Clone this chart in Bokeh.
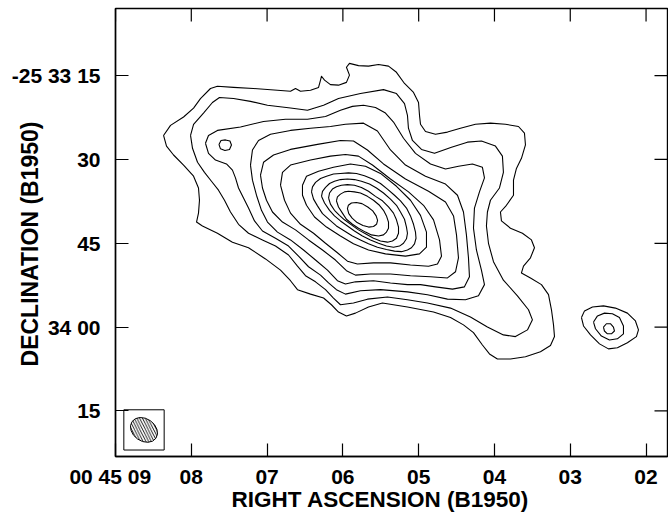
import math
from bokeh.plotting import figure
from bokeh.models import Range1d, FixedTicker
from bokeh.embed import file_html
from bokeh.resources import INLINE

# ---- axes: RA seconds of 00h45m, Dec arcsec south of -25d33m00s ----
ra_ticks = [9, 8, 7, 6, 5, 4, 3, 2]
ra_labels = ["00 45 09\u2002", "08", "07", "06", "05", "04", "03", "02"]
dec_ticks = [15, 30, 45, 60, 75]
dec_labels = ["-25 33 15", "30", "45", "34 00", "15"]
ra_view = [9.0, 1.717]
dec_view = [83.16, 2.98]
dec_ref_deg = -25.55

# ---- contour traces (RA s, Dec arcsec), outermost to innermost ----
c01_ra = [8.366, 8.274, 8.102, 7.970, 7.879, 7.747, 7.655, 7.443, 7.179, 6.863, 6.691, 6.625, 6.559, 6.427, 6.321, 6.295, 6.282, 6.242, 6.164, 6.058, 5.953, 5.913, 5.953, 5.913, 5.794, 5.662, 5.530, 5.398, 5.293, 5.187, 5.068, 5.002, 4.989, 4.976, 4.910, 4.778, 4.620, 4.449, 4.251, 4.053, 3.855, 3.683, 3.604, 3.591, 3.644, 3.710, 3.749, 3.749, 3.842, 3.921, 3.908, 3.789, 3.631, 3.512, 3.472, 3.525, 3.617, 3.644, 3.525, 3.380, 3.287, 3.248, 3.221, 3.208, 3.261, 3.393, 3.591, 3.789, 3.961, 4.066, 4.159, 4.277, 4.409, 4.580, 4.804, 5.148, 5.478, 5.662, 5.834, 5.953, 6.058, 6.151, 6.255, 6.427, 6.599, 6.691, 6.823, 7.021, 7.245, 7.457, 7.655, 7.853, 7.931, 7.905, 7.892, 7.905, 7.970, 8.102, 8.234, 8.327]
c01_dec = [25.7, 23.9, 22.4, 20.8, 19.1, 17.3, 16.9, 17.1, 17.3, 17.6, 17.8, 17.3, 17.8, 17.6, 17.1, 15.8, 15.1, 15.8, 16.6, 16.7, 16.2, 14.9, 13.5, 12.8, 13.2, 13.3, 13.0, 13.3, 14.4, 16.4, 18.0, 19.8, 22.1, 23.7, 25.0, 25.5, 25.1, 24.4, 23.7, 23.5, 23.7, 24.1, 25.3, 27.4, 29.8, 31.6, 33.7, 36.4, 38.2, 39.4, 41.0, 42.3, 43.2, 44.4, 45.8, 47.6, 49.1, 50.3, 51.2, 52.4, 54.2, 56.9, 59.6, 61.7, 63.3, 64.4, 65.3, 65.7, 65.7, 64.8, 63.2, 61.0, 59.6, 58.3, 57.3, 56.4, 55.7, 56.4, 57.5, 58.0, 57.3, 56.0, 54.8, 54.1, 53.3, 51.7, 49.8, 47.8, 45.8, 44.8, 43.2, 41.9, 41.2, 39.6, 37.3, 35.1, 33.0, 31.0, 29.2, 27.6]

c02_ra = [8.010, 7.970, 7.839, 7.721, 7.628, 7.443, 7.219, 6.995, 6.691, 6.467, 6.255, 6.058, 5.768, 5.464, 5.293, 5.187, 5.148, 5.135, 5.082, 4.963, 4.791, 4.567, 4.357, 4.172, 3.987, 3.895, 3.882, 3.934, 4.053, 4.093, 4.106, 4.079, 4.013, 3.882, 3.697, 3.551, 3.499, 3.565, 3.723, 3.882, 4.093, 4.317, 4.580, 4.884, 5.148, 5.412, 5.676, 5.860, 6.032, 6.124, 6.229, 6.361, 6.493, 6.599, 6.717, 6.889, 7.061, 7.245, 7.377, 7.483, 7.562, 7.641, 7.734, 7.826, 7.918, 7.984]
c02_dec = [25.7, 23.7, 21.7, 19.8, 18.9, 19.1, 19.6, 20.3, 20.8, 21.2, 20.3, 19.1, 18.2, 17.5, 18.2, 20.0, 22.1, 24.4, 26.6, 28.2, 28.9, 27.8, 26.9, 26.7, 27.6, 29.4, 32.3, 35.1, 37.3, 39.4, 41.9, 45.0, 48.3, 51.6, 54.4, 56.9, 58.7, 60.5, 61.7, 61.4, 60.0, 58.2, 56.6, 55.7, 55.1, 54.6, 55.0, 55.7, 56.0, 54.8, 53.3, 51.9, 50.8, 49.1, 47.1, 45.5, 44.4, 43.2, 41.6, 39.4, 37.3, 35.5, 33.9, 32.3, 30.5, 28.0]

c03_ra = [7.813, 7.773, 7.655, 7.351, 7.047, 6.757, 6.467, 6.229, 6.032, 5.874, 5.728, 5.570, 5.438, 5.332, 5.200, 5.042, 4.844, 4.646, 4.474, 4.291, 4.159, 4.132, 4.198, 4.264, 4.277, 4.238, 4.172, 4.132, 4.211, 4.383, 4.620, 4.884, 5.148, 5.504, 5.768, 5.966, 6.085, 6.189, 6.295, 6.453, 6.585, 6.717, 6.889, 7.061, 7.166, 7.245, 7.311, 7.377, 7.417, 7.457, 7.536, 7.681, 7.773]
c03_dec = [27.1, 25.7, 24.8, 24.2, 23.2, 22.8, 22.8, 22.3, 21.2, 20.5, 20.3, 20.7, 21.7, 23.3, 26.2, 28.9, 30.8, 31.7, 31.2, 30.8, 31.4, 33.3, 35.8, 38.7, 42.3, 46.2, 49.8, 52.4, 54.4, 55.1, 55.0, 54.2, 53.7, 53.3, 53.5, 54.1, 53.3, 52.1, 50.7, 49.2, 47.3, 45.5, 44.1, 42.8, 41.0, 38.7, 36.9, 35.1, 33.3, 31.9, 30.8, 30.1, 28.9]

c04_ra = [7.219, 7.193, 7.113, 6.955, 6.691, 6.427, 6.164, 5.966, 5.728, 5.544, 5.372, 5.174, 4.910, 4.646, 4.488, 4.409, 4.370, 4.343, 4.330, 4.396, 4.554, 4.778, 4.976, 5.148, 5.372, 5.596, 5.834, 5.966, 6.072, 6.203, 6.361, 6.519, 6.691, 6.863, 6.995, 7.074, 7.140, 7.193]
c04_dec = [31.0, 28.3, 26.6, 25.5, 24.8, 24.4, 24.1, 23.7, 23.5, 24.9, 28.3, 31.0, 33.0, 34.4, 36.4, 39.4, 43.5, 47.6, 51.0, 52.8, 53.2, 52.8, 52.4, 52.4, 52.1, 51.7, 51.9, 52.3, 51.7, 49.8, 48.0, 46.2, 44.4, 43.0, 41.2, 39.1, 36.4, 33.7]

c05_ra = [7.087, 7.047, 6.915, 6.691, 6.335, 6.032, 5.860, 5.676, 5.464, 5.174, 4.870, 4.646, 4.540, 4.501, 4.475, 4.514, 4.620, 4.844, 5.108, 5.372, 5.636, 5.834, 5.953, 6.098, 6.269, 6.453, 6.625, 6.797, 6.929, 7.008, 7.061]
c05_dec = [32.8, 30.5, 29.2, 28.2, 27.3, 26.6, 26.7, 28.3, 30.8, 33.5, 35.7, 37.6, 40.1, 43.5, 47.6, 50.1, 51.2, 51.0, 50.8, 50.5, 50.5, 50.7, 49.9, 48.0, 46.2, 44.4, 42.6, 41.2, 39.4, 37.3, 35.1]

c06_ra = [6.823, 6.797, 6.691, 6.427, 6.164, 5.966, 5.794, 5.610, 5.372, 5.134, 4.936, 4.804, 4.725, 4.699, 4.752, 4.870, 5.108, 5.372, 5.596, 5.808, 5.940, 6.072, 6.229, 6.387, 6.559, 6.691, 6.770]
c06_dec = [34.6, 32.3, 31.0, 30.1, 29.4, 29.1, 29.4, 31.0, 33.5, 35.8, 38.2, 40.8, 44.4, 47.3, 48.7, 49.1, 48.9, 48.5, 48.5, 48.7, 48.2, 46.7, 45.0, 43.2, 41.6, 39.6, 37.3]

c07_ra = [6.533, 6.480, 6.321, 6.124, 5.900, 5.702, 5.504, 5.293, 5.108, 4.976, 4.897, 4.897, 4.989, 5.174, 5.438, 5.662, 5.860, 6.032, 6.216, 6.374, 6.480, 6.533]
c07_dec = [34.6, 33.0, 32.1, 31.4, 30.8, 31.2, 32.5, 34.8, 37.3, 40.0, 43.0, 45.7, 46.9, 47.3, 46.9, 46.2, 45.1, 43.7, 42.1, 40.3, 38.2, 36.4]

c08_ra = [6.414, 6.401, 6.361, 6.295, 6.216, 6.124, 6.032, 5.926, 5.821, 5.715, 5.610, 5.504, 5.412, 5.319, 5.240, 5.161, 5.108, 5.068, 5.042, 5.035, 5.055, 5.095, 5.148, 5.227, 5.319, 5.425, 5.544, 5.662, 5.768, 5.874, 5.979, 6.085, 6.176, 6.269, 6.335, 6.387]
c08_dec = [35.8, 34.9, 34.1, 33.4, 33.0, 32.6, 32.5, 32.4, 32.5, 32.9, 33.5, 34.3, 35.3, 36.4, 37.4, 38.7, 40.1, 41.6, 43.0, 44.1, 45.1, 45.8, 46.2, 46.5, 46.4, 46.1, 45.7, 45.1, 44.4, 43.7, 42.8, 41.9, 40.8, 39.7, 38.3, 37.1]

c09_ra = [6.282, 6.269, 6.229, 6.176, 6.111, 6.032, 5.940, 5.847, 5.755, 5.649, 5.557, 5.464, 5.372, 5.293, 5.240, 5.187, 5.161, 5.148, 5.161, 5.200, 5.253, 5.332, 5.425, 5.530, 5.636, 5.742, 5.847, 5.940, 6.032, 6.111, 6.176, 6.242]
c09_dec = [36.6, 35.7, 35.0, 34.3, 33.9, 33.6, 33.5, 33.6, 33.9, 34.4, 35.1, 36.0, 37.1, 38.2, 39.4, 40.7, 42.1, 43.2, 44.2, 45.0, 45.5, 45.7, 45.5, 45.0, 44.4, 43.7, 42.8, 41.9, 41.0, 40.1, 39.1, 37.8]

c10_ra = [6.189, 6.176, 6.138, 6.085, 6.019, 5.940, 5.847, 5.755, 5.662, 5.570, 5.478, 5.398, 5.332, 5.293, 5.266, 5.266, 5.293, 5.346, 5.412, 5.504, 5.596, 5.702, 5.794, 5.887, 5.979, 6.045, 6.111, 6.164]
c10_dec = [36.9, 36.0, 35.3, 34.9, 34.6, 34.5, 34.6, 35.0, 35.7, 36.6, 37.4, 38.5, 39.6, 40.8, 42.1, 43.2, 44.1, 44.6, 44.8, 44.6, 44.1, 43.3, 42.6, 41.7, 40.8, 40.0, 39.1, 38.0]

c11_ra = [6.085, 6.072, 6.032, 5.979, 5.926, 5.847, 5.768, 5.676, 5.596, 5.517, 5.464, 5.425, 5.398, 5.398, 5.425, 5.464, 5.530, 5.623, 5.702, 5.794, 5.874, 5.953, 6.006, 6.058]
c11_dec = [37.4, 36.7, 36.2, 35.8, 35.7, 35.8, 36.0, 36.6, 37.3, 38.2, 39.1, 40.1, 41.2, 42.3, 43.0, 43.5, 43.7, 43.5, 43.0, 42.3, 41.6, 40.7, 39.6, 38.5]

c12_ra = [5.556, 5.596, 5.660, 5.735, 5.812, 5.878, 5.922, 5.940, 5.928, 5.887, 5.823, 5.748, 5.672, 5.606, 5.561, 5.542]
c12_dec = [41.6, 42.0, 42.1, 41.8, 41.3, 40.5, 39.7, 38.8, 38.2, 37.8, 37.7, 37.9, 38.5, 39.2, 40.1, 40.9]

# small closed contour inside the north-east lobe
island_ra = [7.635, 7.608, 7.549, 7.490, 7.470, 7.496, 7.556, 7.615]
island_dec = [27.3, 26.6, 26.5, 26.7, 27.4, 28.2, 28.4, 28.1]

# compact source to the south-west
src_out_ra = [2.852, 2.812, 2.707, 2.562, 2.404, 2.246, 2.140, 2.100, 2.127, 2.246, 2.378, 2.496, 2.614, 2.733, 2.825]
src_out_dec = [58.3, 57.1, 56.4, 56.2, 56.6, 57.5, 58.9, 60.5, 61.7, 62.8, 63.7, 63.9, 63.0, 61.4, 59.8]
src_mid_ra = [2.693, 2.641, 2.549, 2.444, 2.351, 2.298, 2.298, 2.378, 2.483, 2.589, 2.667]
src_mid_dec = [59.1, 58.0, 57.5, 57.6, 58.3, 59.8, 61.2, 62.1, 62.3, 61.6, 60.3]
src_in_ra = [2.562, 2.523, 2.470, 2.430, 2.417, 2.457, 2.510, 2.549]
src_in_dec = [60.0, 59.4, 59.4, 60.0, 60.7, 61.2, 61.2, 60.7]

# restoring beam (arcsec, degrees)
beam_ra = [8.624]
beam_dec = [78.4]
beam_major = 5.2
beam_minor = 4.0
beam_tilt_deg = -35

all_ra = [c01_ra, c02_ra, c03_ra, c04_ra, c05_ra, c06_ra, c07_ra, c08_ra, c09_ra,
          c10_ra, c11_ra, c12_ra, island_ra, src_out_ra, src_mid_ra, src_in_ra]
all_dec = [c01_dec, c02_dec, c03_dec, c04_dec, c05_dec, c06_dec, c07_dec, c08_dec, c09_dec,
           c10_dec, c11_dec, c12_dec, island_dec, src_out_dec, src_mid_dec, src_in_dec]
for a, b in zip(all_ra, all_dec):
    assert len(a) == len(b)

xs = [list(a) + [a[0]] for a in all_ra]
ys = [list(b) + [b[0]] for b in all_dec]

FONT = "Liberation Sans"

p = figure(width=668, height=514,
           x_range=Range1d(ra_view[0], ra_view[1]), y_range=Range1d(dec_view[0], dec_view[1]),
           output_backend="svg", toolbar_location=None,
           min_border_left=115, min_border_right=1, min_border_top=8, min_border_bottom=57)
p.grid.visible = False
p.outline_line_color = "black"
p.outline_line_width = 1.4
p.background_fill_color = "white"
p.border_fill_color = "white"

p.multi_line(xs, ys, line_color="black", line_width=1.1, line_join="round")

# beam
sec_per_arcsec = 1.0 / (15.0 * math.cos(math.radians(dec_ref_deg)))
p.ellipse(x=beam_ra, y=beam_dec, width=beam_major * sec_per_arcsec, height=beam_minor,
          angle=math.radians(beam_tilt_deg), fill_color="white", line_color="black",
          line_width=1.0, hatch_pattern="\\", hatch_scale=5.5, hatch_weight=0.9,
          hatch_color="black")
box_half = 3.6
p.quad(left=[beam_ra[0] + box_half * sec_per_arcsec], right=[beam_ra[0] - box_half * sec_per_arcsec],
       top=[beam_dec[0] - box_half], bottom=[beam_dec[0] + box_half],
       fill_color=None, line_color="black", line_width=1.0)

# tick marks on the top and right frame edges (drawn inward)
p.ray(x=ra_ticks, y=[dec_view[1]] * len(ra_ticks), length=13, length_units="screen",
      angle=-math.pi / 2, line_color="black", line_width=1.2)
p.ray(x=[ra_view[1]] * len(dec_ticks), y=dec_ticks, length=13, length_units="screen",
      angle=math.pi, line_color="black", line_width=1.2)

def style_axis(ax, title_size):
    ax.major_tick_in = 13
    ax.major_tick_out = 0
    ax.minor_tick_in = 0
    ax.minor_tick_out = 0
    ax.major_tick_line_color = "black"
    ax.major_tick_line_width = 1.2
    ax.axis_line_color = "black"
    ax.axis_line_width = 1.4
    ax.major_label_text_font = FONT
    ax.major_label_text_font_style = "bold"
    ax.major_label_text_font_size = "21px"
    ax.major_label_text_color = "black"
    ax.axis_label_text_font = FONT
    ax.axis_label_text_font_style = "bold"
    ax.axis_label_text_font_size = title_size
    ax.axis_label_text_color = "black"

xa = p.xaxis[0]
xa.ticker = FixedTicker(ticks=ra_ticks)
xa.major_label_overrides = {t: l for t, l in zip(ra_ticks, ra_labels)}
style_axis(xa, "22.5px")
xa.major_label_standoff = 8
xa.axis_label = "RIGHT ASCENSION (B1950)\u2002\u2002"
xa.axis_label_text_line_height = 1.0
xa.axis_label_standoff = -4

ya = p.yaxis[0]
ya.ticker = FixedTicker(ticks=dec_ticks)
ya.major_label_overrides = {t: l for t, l in zip(dec_ticks, dec_labels)}
style_axis(ya, "23px")
ya.major_label_standoff = 15
ya.axis_label = "DECLINATION (B1950)\u2002\u2002"
ya.axis_label_standoff = -34

open("out.html", "w").write(file_html(p, INLINE))
